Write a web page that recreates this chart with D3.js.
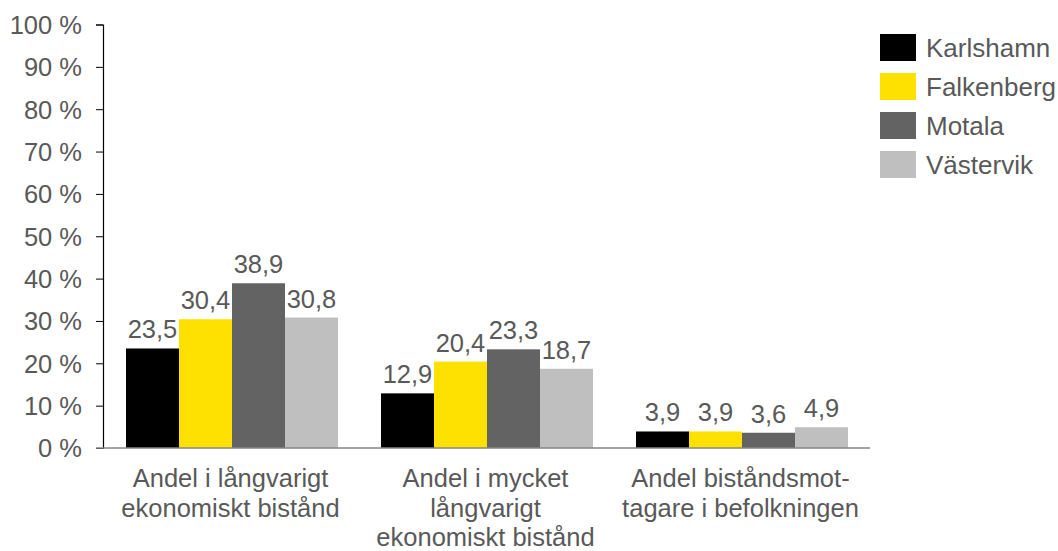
<!DOCTYPE html>
<html>
<head>
<meta charset="utf-8">
<script src="https://cdn.jsdelivr.net/npm/d3@7"></script>
<style>
  body { margin: 0; background: #fff; }
  svg text { font-family: "Liberation Sans", Arial, sans-serif; fill: #595959; }
</style>
</head>
<body>
<svg></svg>
<script>
// data
const categories = [
    ['Andel i långvarigt', 'ekonomiskt bistånd'],
    ['Andel i mycket', 'långvarigt', 'ekonomiskt bistånd'],
    ['Andel biståndsmot-', 'tagare i befolkningen']
];
const seriesNames = ['Karlshamn', 'Falkenberg', 'Motala', 'Västervik'];
const karlshamn = [23.5, 12.9, 3.9];
const falkenberg = [30.4, 20.4, 3.9];
const motala = [38.9, 23.3, 3.6];
const vastervik = [30.8, 18.7, 4.9];
const seriesValues = [karlshamn, falkenberg, motala, vastervik];
const yTicks = [0, 10, 20, 30, 40, 50, 60, 70, 80, 90, 100];

const size = {w: 1058, h: 551};
const plot = {l: 103, r: 868, t: 24.5, b: 448};
const colors = ['#000000', '#ffe100', '#636363', '#bfbfbf'];

const svg = d3.select('svg')
    .attr('width', size.w)
    .attr('height', size.h);

// scales
const x0 = d3.scaleBand()
    .domain(d3.range(categories.length))
    .range([plot.l, plot.r]);

// bars sit a bit off-centre in each band
const x1 = d3.scaleBand()
    .domain(seriesNames)
    .range([23, 235]);

const y = d3.scaleLinear()
    .domain([0, 100])
    .range([plot.b, plot.t]);

const color = d3.scaleOrdinal()
    .domain(seriesNames)
    .range(colors);

// y axis
const yAxis = svg.append('g')
    .attr('transform', `translate(${plot.l},0)`)
    .call(d3.axisLeft(y)
        .tickValues(yTicks)
        .tickSize(7)
        .tickPadding(14)
        .tickFormat(d => d + ' %'));
yAxis.select('.domain').attr('stroke', '#000').attr('stroke-width', 1.2);
yAxis.selectAll('.tick line').attr('stroke', '#000');
yAxis.selectAll('.tick text')
    .attr('font-size', 25.5)
    .style('fill', '#595959')
    .attr('dy', '0.35em');

// bars
const groups = svg.append('g').classed('bars', true)
    .selectAll('g')
    .data(categories.map((c, i) => i))
    .join('g')
    .attr('transform', i => `translate(${x0(i)},0)`);

groups.selectAll('rect')
    .data(i => seriesNames.map((s, k) => ({series: s, value: seriesValues[k][i]})))
    .join('rect')
    .attr('x', d => x1(d.series))
    .attr('width', x1.bandwidth())
    .attr('y', d => y(d.value))
    .attr('height', d => y(0) - y(d.value))
    .attr('fill', d => color(d.series));

// value labels
groups.selectAll('text')
    .data(i => seriesNames.map((s, k) => ({series: s, value: seriesValues[k][i]})))
    .join('text')
    .attr('x', d => x1(d.series) + x1.bandwidth() / 2)
    .attr('y', d => y(d.value) - 10)
    .attr('text-anchor', 'middle')
    .attr('font-size', 25.5)
    .text(d => d3.format('.1f')(d.value).replace('.', ','));

// x axis baseline
svg.append('line')
    .attr('x1', plot.l - 7)
    .attr('x2', plot.r + 2)
    .attr('y1', y(0))
    .attr('y2', y(0))
    .attr('stroke', '#868686')
    .attr('stroke-width', 1.5);

// category labels
const catG = svg.append('g').classed('cat', true);
catG.selectAll('text')
    .data(categories)
    .join('text')
    .attr('text-anchor', 'middle')
    .attr('font-size', 25.5)
    .each(function(lines, i) {
        d3.select(this).selectAll('tspan')
            .data(lines)
            .join('tspan')
            .attr('x', x0(i) + x0.bandwidth() / 2)
            .attr('y', (d, j) => 487 + j * 29.5)
            .text(d => d);
    });

// legend
const legend = svg.append('g')
    .attr('transform', 'translate(880,34)')
    .selectAll('g')
    .data(seriesNames)
    .join('g')
    .attr('transform', (d, i) => `translate(0,${i * 39})`);

legend.append('rect')
    .attr('width', 36)
    .attr('height', 27)
    .attr('fill', d => color(d));

legend.append('text')
    .attr('x', 46)
    .attr('y', 23)
    .attr('font-size', 26)
    .text(d => d);
</script>
</body>
</html>
